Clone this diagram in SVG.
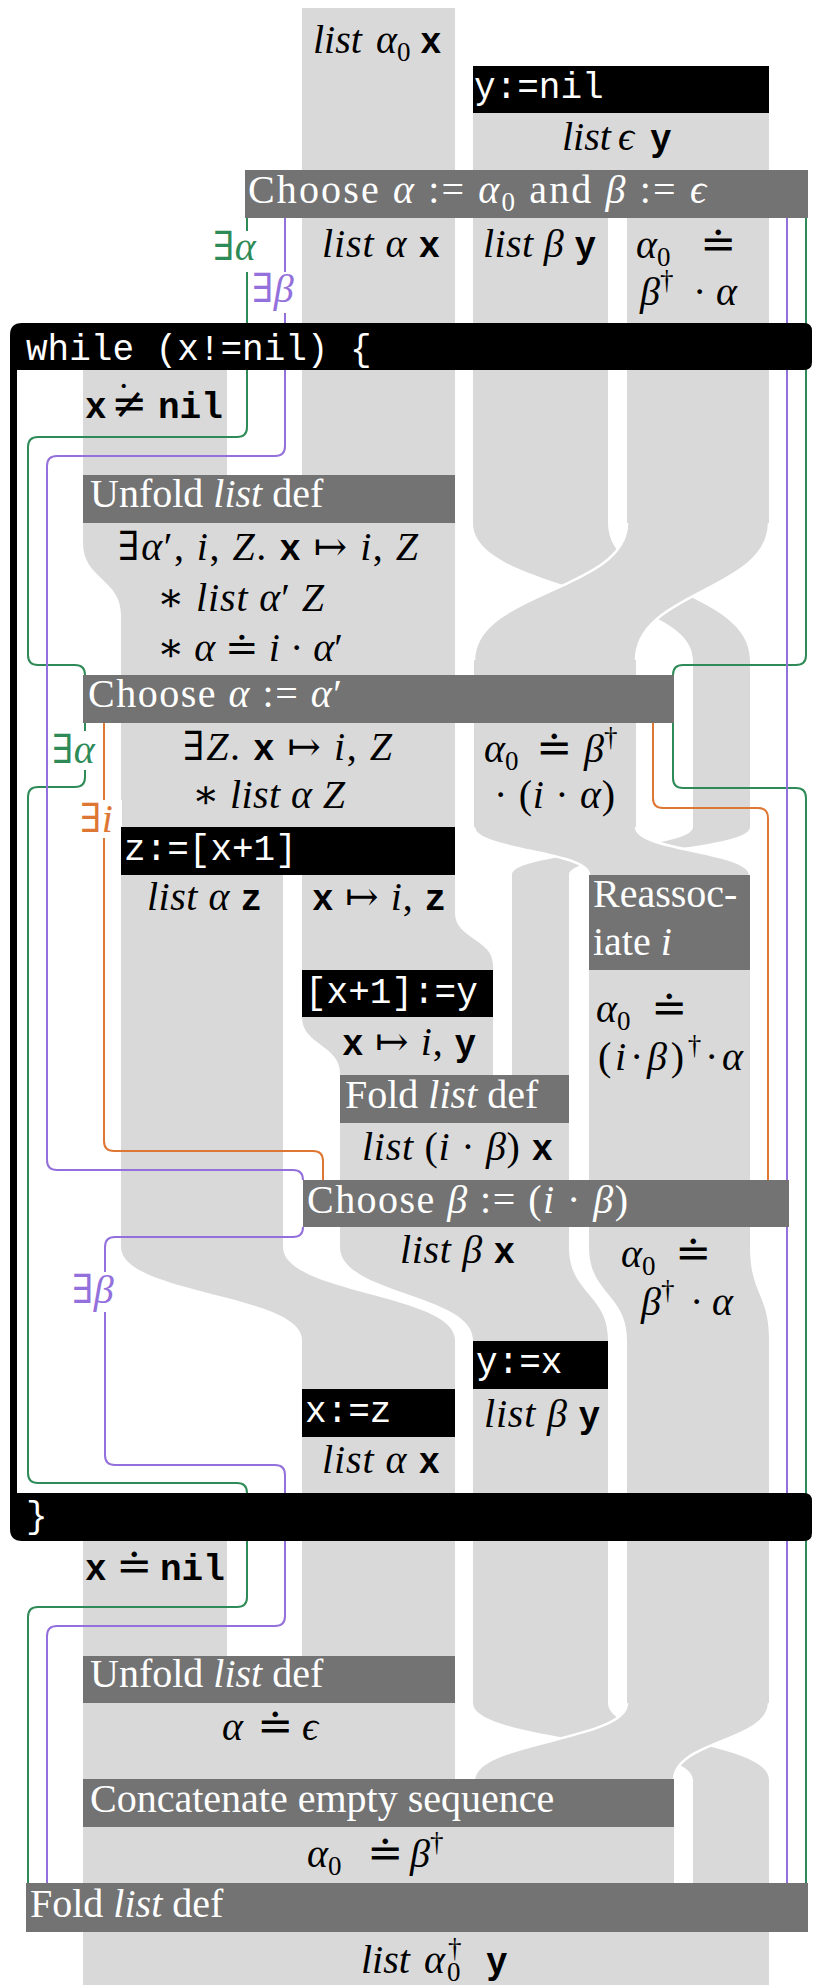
<svg xmlns="http://www.w3.org/2000/svg" width="813" height="1985" viewBox="0 0 813 1985">
<defs><style>
.rb{fill:#d9d9d9}
.bx{fill:#737373}
.bk{fill:#000}
.ln{fill:none;stroke-width:2}
.g{stroke:#2e8b57}
.p{stroke:#9370db}
.o{stroke:#dd7733}
.t{font-family:"Liberation Serif","DejaVu Serif",serif;font-size:40px;fill:#000}
.it{font-style:italic}
.tt{font-family:"Liberation Mono","DejaVu Sans Mono",monospace;font-size:36px;font-weight:bold}
.code{font-family:"Liberation Mono","DejaVu Sans Mono",monospace;font-size:36px;fill:#fff}
.wt{fill:#fff}
.sm{font-size:27px}
.edge{fill:none;stroke:#fff;stroke-width:2.5}
.lb{fill:#fff}
.gt{fill:#2e8b57}
.pt{fill:#9370db}
.ot{fill:#dd7733}
.rel{font-family:"DejaVu Serif",serif;font-size:43px}
</style></defs>
<rect width="813" height="1985" fill="#fff"/>
<g id="ribbons">
<rect class="rb" x="302" y="8" width="153" height="467"/>
<rect class="rb" x="473" y="113" width="296" height="57"/>
<rect class="rb" x="473" y="218" width="135" height="305"/>
<rect class="rb" x="627" y="218" width="142" height="305"/>
<rect class="rb" x="83" y="370" width="144" height="105"/>
<path class="rb" d="M83,523 H455 V827 H121 V615 C121,579 83,579 83,543 Z"/>
<path class="rb" d="M473,523 C473,591 693,591 693,660 V827 H750 V660 C750,591 608,591 608,523 Z"/>
<path class="rb" d="M627,523 C627,591 474,591 474,660 V827 H636 V660 C636,591 769,591 769,523 Z"/>
<path class="edge" d="M627,523 C627,591 474,591 474,660 M769,523 C769,591 636,591 636,660"/>
<path class="rb" d="M693,827 C693,851 512,851 512,875 V1075 H569 V875 C569,851 750,851 750,827 Z"/>
<path class="rb" d="M474,827 C474,851 589,851 589,875 V1247 H750 V875 C750,851 636,851 636,827 Z"/>
<path class="edge" d="M474,827 C474,851 589,851 589,875 M636,827 C636,851 750,851 750,875"/>
<path class="rb" d="M121,875 V1247 C121,1294 302,1294 302,1340 V1389 H455 V1340 C455,1294 283,1294 283,1247 V875 Z"/>
<path class="rb" d="M302,875 H455 V913 C455,939 493,939 493,965 V1017 H302 Z"/>
<path class="rb" d="M302,1017 H493 V1075 H340 V1073 C340,1045 302,1045 302,1017 Z"/>
<path class="rb" d="M340,1123 H569 V1247 C569,1294 608,1294 608,1340 V1341 H473 V1340 C473,1294 340,1294 340,1247 Z"/>
<path class="rb" d="M589,1247 C589,1294 627,1294 627,1340 V1703 H769 V1340 C769,1294 750,1294 750,1247 Z"/>
<rect class="rb" x="302" y="1437" width="153" height="219"/>
<rect class="rb" x="473" y="1389" width="135" height="314"/>
<rect class="rb" x="83" y="1541" width="144" height="115"/>
<rect class="rb" x="83" y="1703" width="372" height="76"/>
<path class="rb" d="M473,1703 C473,1741 693,1741 693,1780 V1883 H769 V1780 C769,1741 608,1741 608,1703 Z"/>
<path class="rb" d="M627,1703 C627,1741 474,1741 474,1780 H674 C674,1741 769,1741 769,1703 Z"/>
<path class="edge" d="M627,1703 C627,1741 474,1741 474,1780 M769,1703 C769,1741 674,1741 674,1780"/>
<rect class="rb" x="83" y="1827" width="591" height="56"/>
<rect class="rb" x="83" y="1932" width="686" height="53"/>
</g>
<g id="connectors">
<path class="ln g" d="M247,218 V427 Q247,437 237,437 H38 Q28,437 28,447 V655 Q28,665 38,665 H75 Q85,665 85,675"/>
<path class="ln g" d="M806,218 V655 Q806,665 796,665 H683 Q673,665 673,675 V778 Q673,788 683,788 H796 Q806,788 806,798 V1883"/>
<path class="ln g" d="M85,723 V777 Q85,787 75,787 H38 Q28,787 28,797 V1473 Q28,1483 38,1483 H237 Q247,1483 247,1493"/>
<path class="ln g" d="M247,1541 V1597 Q247,1607 237,1607 H38 Q28,1607 28,1617 V1883"/>
<path class="ln p" d="M285,218 V446 Q285,456 275,456 H57 Q47,456 47,466 V1160 Q47,1170 57,1170 H293 Q303,1170 303,1180"/>
<path class="ln p" d="M303,1227 Q303,1237 293,1237 H115 Q105,1237 105,1247 V1455 Q105,1465 115,1465 H275 Q285,1465 285,1475 V1616 Q285,1626 275,1626 H57 Q47,1626 47,1636 V1883"/>
<path class="ln p" d="M787,218 V1883"/>
<path class="ln o" d="M104,723 V1141 Q104,1151 114,1151 H313 Q323,1151 323,1161 V1180"/>
<path class="ln o" d="M653,723 V798 Q653,808 663,808 H758 Q768,808 768,818 V1180"/>
</g>
<g id="labels">
<rect class="lb" x="210" y="231" width="52" height="41"/>
<text class="t gt" x="213" y="260">∃<tspan class="it">α</tspan></text>
<rect class="lb" x="250" y="272" width="50" height="41"/>
<text class="t pt" x="252" y="302">∃<tspan class="it">β</tspan></text>
<rect class="lb" x="50" y="731" width="50" height="39"/>
<text class="t gt" x="52" y="763">∃<tspan class="it">α</tspan></text>
<rect class="lb" x="78" y="800" width="44" height="38"/>
<text class="t ot" x="80" y="832">∃<tspan class="it">i</tspan></text>
<rect class="lb" x="70" y="1272" width="48" height="40"/>
<text class="t pt" x="72" y="1303">∃<tspan class="it">β</tspan></text>
</g>
<g id="assertions">
<text class="t" y="53"><tspan class="it" x="313">list</tspan><tspan class="it" x="376">α</tspan><tspan class="sm" dy="8">0</tspan><tspan class="tt" x="420" dy="-8">x</tspan></text>
<text class="t" y="150"><tspan class="it" x="562">list</tspan><tspan class="it" x="618">ϵ</tspan><tspan class="tt" x="650">y</tspan></text>
<text class="t" x="322" y="257" textLength="118" lengthAdjust="spacing"><tspan class="it">list α</tspan> <tspan class="tt">x</tspan></text>
<text class="t" x="483" y="257" textLength="113" lengthAdjust="spacing"><tspan class="it">list β</tspan> <tspan class="tt">y</tspan></text>
<text class="t" y="258"><tspan class="it" x="636">α</tspan><tspan class="sm" dy="8">0</tspan><tspan class="rel" x="700" dy="-8">≐</tspan></text>
<text class="t" y="305"><tspan class="it" x="640">β</tspan><tspan class="sm" dy="-16">†</tspan><tspan x="693" dy="16">·</tspan><tspan class="it" x="716">α</tspan></text>
<text class="t" y="418"><tspan class="tt" x="85">x</tspan><tspan class="rel" x="111">≠</tspan><tspan x="117" dy="-8">˙</tspan><tspan class="tt" x="158" dy="8">nil</tspan></text>
<text class="t" x="118" y="560" textLength="300" lengthAdjust="spacing">∃<tspan class="it">α</tspan>′, <tspan class="it">i</tspan>, <tspan class="it">Z</tspan>. <tspan class="tt">x</tspan> ↦ <tspan class="it">i</tspan>, <tspan class="it">Z</tspan></text>
<text class="t" x="157" y="611" textLength="167" lengthAdjust="spacing">∗ <tspan class="it">list α</tspan>′ <tspan class="it">Z</tspan></text>
<text class="t" x="157" y="661" textLength="186" lengthAdjust="spacing">∗ <tspan class="it">α</tspan> ≐ <tspan class="it">i</tspan> · <tspan class="it">α</tspan>′</text>
<text class="t" x="183" y="760" textLength="209" lengthAdjust="spacing">∃<tspan class="it">Z</tspan>. <tspan class="tt">x</tspan> ↦ <tspan class="it">i</tspan>, <tspan class="it">Z</tspan></text>
<text class="t" x="192" y="808" textLength="153" lengthAdjust="spacing">∗ <tspan class="it">list α Z</tspan></text>
<text class="t" y="762"><tspan class="it" x="484">α</tspan><tspan class="sm" dy="8">0</tspan><tspan class="rel" x="536" dy="-8">≐</tspan><tspan class="it" x="584">β</tspan><tspan class="sm" dy="-16">†</tspan></text>
<text class="t" x="494" y="808" textLength="121" lengthAdjust="spacing">· (<tspan class="it">i</tspan> · <tspan class="it">α</tspan>)</text>
<text class="t" x="147" y="910" textLength="115" lengthAdjust="spacing"><tspan class="it">list α</tspan> <tspan class="tt">z</tspan></text>
<text class="t" x="312" y="910" textLength="134" lengthAdjust="spacing"><tspan class="tt">x</tspan> ↦ <tspan class="it">i</tspan>, <tspan class="tt">z</tspan></text>
<text class="t" y="1022"><tspan class="it" x="596">α</tspan><tspan class="sm" dy="8">0</tspan><tspan class="rel" x="651" dy="-8">≐</tspan></text>
<text class="t" x="598" y="1070" textLength="145" lengthAdjust="spacing">(<tspan class="it">i</tspan>·<tspan class="it">β</tspan>)<tspan class="sm" dy="-16">†</tspan><tspan dy="16">·</tspan><tspan class="it">α</tspan></text>
<text class="t" x="342" y="1055" textLength="134" lengthAdjust="spacing"><tspan class="tt">x</tspan> ↦ <tspan class="it">i</tspan>, <tspan class="tt">y</tspan></text>
<text class="t" x="362" y="1160" textLength="191" lengthAdjust="spacing"><tspan class="it">list</tspan> (<tspan class="it">i</tspan> · <tspan class="it">β</tspan>) <tspan class="tt">x</tspan></text>
<text class="t" x="400" y="1263" textLength="115" lengthAdjust="spacing"><tspan class="it">list β</tspan> <tspan class="tt">x</tspan></text>
<text class="t" y="1267"><tspan class="it" x="621">α</tspan><tspan class="sm" dy="8">0</tspan><tspan class="rel" x="675" dy="-8">≐</tspan></text>
<text class="t" y="1315"><tspan class="it" x="641">β</tspan><tspan class="sm" dy="-16">†</tspan><tspan x="690" dy="16">·</tspan><tspan class="it" x="712">α</tspan></text>
<text class="t" x="484" y="1427" textLength="116" lengthAdjust="spacing"><tspan class="it">list β</tspan> <tspan class="tt">y</tspan></text>
<text class="t" x="322" y="1473" textLength="118" lengthAdjust="spacing"><tspan class="it">list α</tspan> <tspan class="tt">x</tspan></text>
<text class="t" y="1580"><tspan class="tt" x="85">x</tspan><tspan class="rel" x="116">≐</tspan><tspan class="tt" x="160">nil</tspan></text>
<text class="t" y="1740"><tspan class="it" x="222">α</tspan><tspan class="rel" x="257">≐</tspan><tspan class="it" x="302">ϵ</tspan></text>
<text class="t" y="1867"><tspan class="it" x="307">α</tspan><tspan class="sm" dy="8">0</tspan><tspan class="rel" x="367" dy="-8">≐</tspan><tspan class="it" x="410">β</tspan><tspan class="sm" dy="-16">†</tspan></text>
<text class="t" y="1973"><tspan class="it" x="361">list</tspan><tspan class="it" x="424">α</tspan><tspan class="sm" x="447" dy="8">0</tspan><tspan class="sm" x="448" dy="-24">†</tspan><tspan class="tt" x="486" dy="16">y</tspan></text>
</g>
<g id="n-ynil"><rect class="bk" x="473" y="66" width="296" height="47"/><text class="code" x="474" y="98">y:=nil</text></g>
<g id="n-choose1"><rect class="bx" x="245" y="170" width="563" height="48"/><text class="t wt" x="248" y="203" textLength="458" lengthAdjust="spacing">Choose <tspan class="it">α</tspan> := <tspan class="it">α</tspan><tspan class="sm" dy="8">0</tspan><tspan dy="-8"> and </tspan><tspan class="it">β</tspan> := <tspan class="it">ϵ</tspan></text></g>
<g id="n-unfold1"><rect class="bx" x="83" y="475" width="372" height="48"/><text class="t wt" x="90" y="507">Unfold <tspan class="it">list</tspan> def</text></g>
<g id="n-choose2"><rect class="bx" x="83" y="675" width="591" height="48"/><text class="t wt" x="88" y="707" textLength="254" lengthAdjust="spacing">Choose <tspan class="it">α</tspan> := <tspan class="it">α</tspan>′</text></g>
<g id="n-z"><rect class="bk" x="121" y="827" width="334" height="48"/><text class="code" x="124" y="860">z:=[x+1]</text></g>
<g id="n-reassoc"><rect class="bx" x="589" y="875" width="161" height="95"/><text class="t wt" x="593" y="907">Reassoc-</text><text class="t wt" x="593" y="955">iate <tspan class="it">i</tspan></text></g>
<g id="n-store"><rect class="bk" x="302" y="970" width="191" height="47"/><text class="code" x="305" y="1003">[x+1]:=y</text></g>
<g id="n-fold1"><rect class="bx" x="340" y="1075" width="229" height="48"/><text class="t wt" x="345" y="1108">Fold <tspan class="it">list</tspan> def</text></g>
<g id="n-choose3"><rect class="bx" x="303" y="1180" width="486" height="47"/><text class="t wt" x="307" y="1213" textLength="321" lengthAdjust="spacing">Choose <tspan class="it">β</tspan> := (<tspan class="it">i</tspan> · <tspan class="it">β</tspan>)</text></g>
<g id="n-yx"><rect class="bk" x="473" y="1341" width="135" height="48"/><text class="code" x="476" y="1373">y:=x</text></g>
<g id="n-xz"><rect class="bk" x="302" y="1389" width="153" height="48"/><text class="code" x="305" y="1422">x:=z</text></g>
<g id="n-unfold2"><rect class="bx" x="83" y="1656" width="372" height="47"/><text class="t wt" x="90" y="1687">Unfold <tspan class="it">list</tspan> def</text></g>
<g id="n-concat"><rect class="bx" x="83" y="1779" width="591" height="48"/><text class="t wt" x="90" y="1812">Concatenate empty sequence</text></g>
<g id="n-fold2"><rect class="bx" x="26" y="1883" width="782" height="49"/><text class="t wt" x="30" y="1917">Fold <tspan class="it">list</tspan> def</text></g>
<g id="n-while">
<path class="bk" d="M22,323 H804 Q812,323 812,331 V362 Q812,370 804,370 H17 V1493 H804 Q812,1493 812,1501 V1533 Q812,1541 804,1541 H22 Q10,1541 10,1529 V335 Q10,323 22,323 Z"/>
<text class="code" x="26" y="360">while (x!=nil) {</text>
<text class="code" x="26" y="1527">}</text>
</g>
</svg>
